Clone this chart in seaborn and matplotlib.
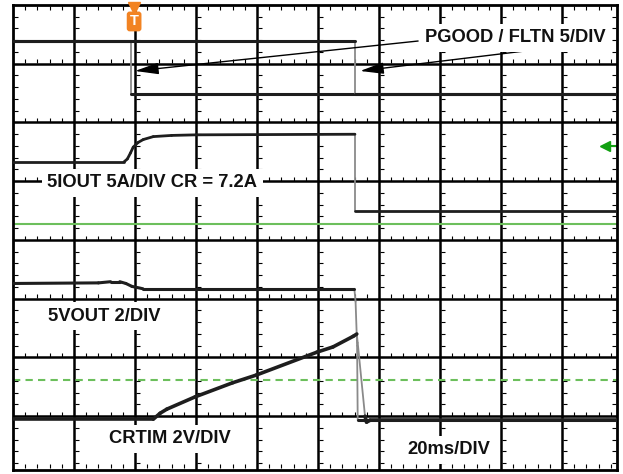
import numpy as np
import pandas as pd
import seaborn as sns
import matplotlib.pyplot as plt

# time in ms (20 ms/div), levels in screen divisions counted from the bottom
pgood_t = [0, 38.7, 38.7, 198]
pgood_v = [7.38, 7.38, 6.48, 6.48]
fltn_t = [0, 112.1, 112.1, 198]
fltn_v = [7.38, 7.38, 6.48, 6.48]

iout_t = [0, 36.4, 37.5, 38.5, 39.4, 41, 42.7, 46, 52, 60, 112.1, 112.1, 198]
iout_v = [5.33, 5.33, 5.38, 5.48, 5.58, 5.66, 5.71, 5.76, 5.78, 5.79, 5.80, 4.49, 4.49]

vout_t = [0, 28, 32, 35, 37, 39, 42.6, 48, 111.9, 112.3, 112.8, 113.0, 198]
vout_v = [3.26, 3.27, 3.29, 3.29, 3.26, 3.21, 3.17, 3.17, 3.17, 2.95, 2.2, 0.93, 0.93]

crtim_t = [0, 46, 48.2, 50.4, 59.7, 72, 79.7, 99.6, 104.9, 111.5, 112.7, 113.0, 115.4, 115.9, 117, 198]
crtim_v = [0.95, 0.95, 1.05, 1.12, 1.33, 1.57, 1.70, 2.09, 2.18, 2.36, 2.40, 2.25, 1.0, 0.90, 0.93, 0.93]

green_ref = 4.27
green_dash = 1.62
green_marker = 5.605

XMAX = 198.0
YMIN, YMAX = 0.085, 8.0


def split(t, v):
    # flat/slow parts drawn thick, fast edges drawn thin grey
    lev, edg = [], []
    seg = 0
    for i in range(len(t) - 1):
        dt = t[i + 1] - t[i]
        dv = v[i + 1] - v[i]
        fast = dt == 0 or abs(dv / dt) > 0.3
        rows = edg if fast else lev
        rows.append((seg, t[i], v[i]))
        rows.append((seg, t[i + 1], v[i + 1]))
        seg += 1
    cols = ['seg', 't', 'v']
    return pd.DataFrame(lev, columns=cols), pd.DataFrame(edg, columns=cols)


sns.set_style("white")
plt.rcParams['font.family'] = ['Liberation Sans', 'DejaVu Sans']

fig = plt.figure(figsize=(6.23, 4.74), dpi=100)
ax = fig.add_axes([13 / 623, 4 / 474, 604 / 623, 465 / 474])
ax.set_xlim(0, XMAX)
ax.set_ylim(YMIN, YMAX)
ax.set_xticks([])
ax.set_yticks([])
for s in ax.spines.values():
    s.set_color('black')
    s.set_linewidth(2)

# graticule
for k in range(1, 10):
    ax.axvline(20 * k, color='black', lw=1.8, zorder=1)
for k in range(1, 8):
    ax.axhline(k, color='black', lw=1.8, zorder=1)

# small ticks along graticule lines
xs = np.arange(0, XMAX, 4)
for yl in list(range(1, 8)) + [YMIN + 0.03]:
    ax.plot(xs, np.full(len(xs), yl + 0.04), ls='none', marker='|', ms=2.5, mew=0.8, color='black', zorder=1)
ax.plot(xs, np.full(len(xs), YMAX - 0.05), ls='none', marker='|', ms=2.5, mew=0.8, color='black', zorder=1)
ys = np.arange(0.2, YMAX, 0.2)
for xl in [0] + [20 * k for k in range(1, 10)]:
    ax.plot(np.full(len(ys), xl + 1.0), ys, ls='none', marker='_', ms=2.5, mew=0.8, color='black', zorder=1)
ax.plot(np.full(len(ys), XMAX - 1.0), ys, ls='none', marker='_', ms=2.5, mew=0.8, color='black', zorder=1)

# green reference lines
ax.axhline(green_ref, color='#6cbf5c', lw=1.5, zorder=2)
ax.axhline(green_dash, color='#6cbf5c', lw=1.5, dashes=(3.5, 2.5), zorder=2)
ax.plot([193.6, XMAX], [green_marker, green_marker], color='#11a011', lw=1.5, zorder=2, clip_on=False)
ax.plot([194.2], [green_marker], marker='<', ms=7, color='#11a011', zorder=2, clip_on=False)

# traces
for t, v, w in [(pgood_t, pgood_v, 2.2), (fltn_t, fltn_v, 2.2), (iout_t, iout_v, 2.0),
                (vout_t, vout_v, 2.2), (crtim_t, crtim_v, 2.6)]:
    lev, edg = split(t, v)
    if len(edg):
        sns.lineplot(data=edg, x='t', y='v', units='seg', estimator=None, sort=False,
                     color='#8a8a8a', lw=1.3, ax=ax, legend=False, zorder=3)
    sns.lineplot(data=lev, x='t', y='v', units='seg', estimator=None, sort=False,
                 color='#1e1e1e', lw=w, ax=ax, legend=False, zorder=3)
ax.set_xlabel('')
ax.set_ylabel('')

# labels
box = dict(boxstyle='square,pad=0.3', facecolor='white', edgecolor='none')
lab = dict(fontsize=13.2, fontweight='bold', color='#111111', ha='center', va='center', zorder=5, bbox=box)
ax.text(164.6, 7.443, 'PGOOD / FLTN 5/DIV', **lab)
ax.text(45.7, 4.975, '5IOUT 5A/DIV CR = 7.2A', **lab)
ax.text(29.8, 2.706, '5VOUT 2/DIV', **lab)
ax.text(51.3, 0.618, 'CRTIM 2V/DIV', **lab)
ax.text(142.8, 0.426, '20ms/DIV', **lab)

arrow = dict(arrowstyle='-|>,head_length=0.9,head_width=0.22', color='black', lw=1.0,
             mutation_scale=16, shrinkA=0, shrinkB=0)
ax.annotate('', xy=(40.0, 6.877), xytext=(132.8, 7.387), arrowprops=arrow, zorder=4)
ax.annotate('', xy=(113.8, 6.877), xytext=(170.5, 7.234), arrowprops=arrow, zorder=4)

# trigger marker
ax.plot([39.7], [7.95], marker='v', ms=8, color='#f28322', zorder=6, clip_on=False)
ax.text(39.7, 7.72, 'T', fontsize=10.5, fontweight='bold', color='white', ha='center', va='center',
        zorder=6, bbox=dict(boxstyle='round,pad=0.2', facecolor='#f28322', edgecolor='none'))

fig.savefig('out.png', dpi=100, facecolor='white')
